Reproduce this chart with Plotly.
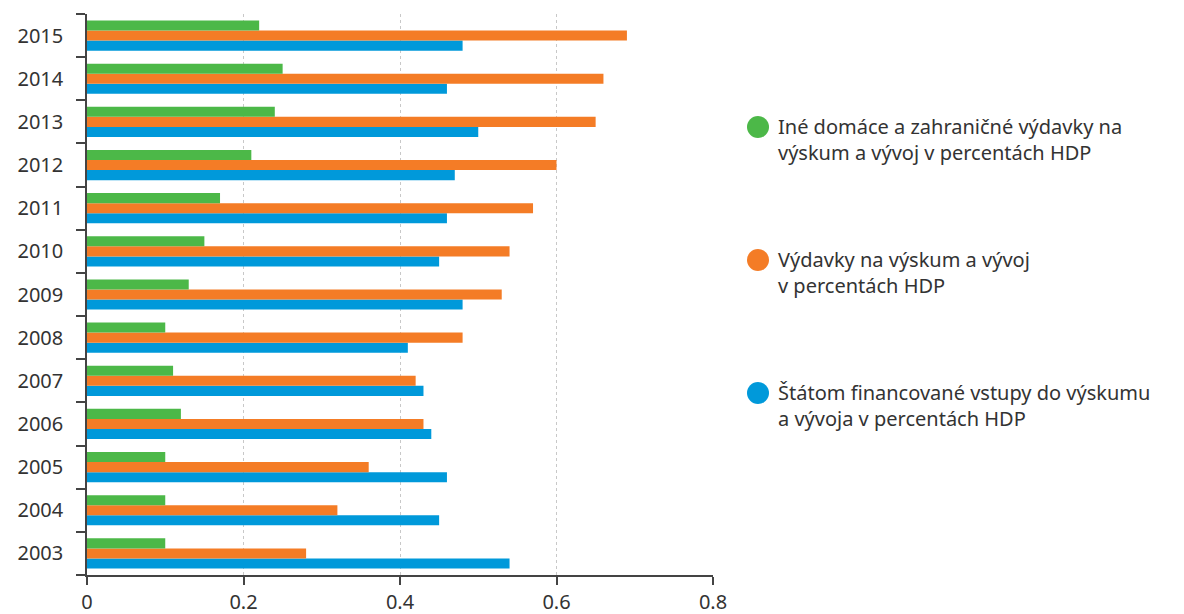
import plotly.graph_objects as go

years = ["2003", "2004", "2005", "2006", "2007", "2008", "2009", "2010", "2011", "2012", "2013", "2014", "2015"]
other_exp = [0.10, 0.10, 0.10, 0.12, 0.11, 0.10, 0.13, 0.15, 0.17, 0.21, 0.24, 0.25, 0.22]
rd_exp = [0.28, 0.32, 0.36, 0.43, 0.42, 0.48, 0.53, 0.54, 0.57, 0.60, 0.65, 0.66, 0.69]
state_fund = [0.54, 0.45, 0.46, 0.44, 0.43, 0.41, 0.48, 0.45, 0.46, 0.47, 0.50, 0.46, 0.48]

names = [
    "Iné domáce a zahraničné výdavky na<br>výskum a vývoj v percentách HDP",
    "Výdavky na výskum a vývoj<br>v percentách HDP",
    "Štátom financované vstupy do výskumu<br>a vývoja v percentách HDP",
]
colors = ["#4cb848", "#f47c26", "#0099da"]

FONT = "Noto Sans"
W, H = 1184, 614
L, R, T, B = 87, 713, 14, 575

fig = go.Figure()
# order: bottom to top within group
fig.add_trace(go.Bar(y=years, x=state_fund, orientation="h", name=names[2], marker=dict(color=colors[2], line=dict(width=0))))
fig.add_trace(go.Bar(y=years, x=rd_exp, orientation="h", name=names[1], marker=dict(color=colors[1], line=dict(width=0))))
fig.add_trace(go.Bar(y=years, x=other_exp, orientation="h", name=names[0], marker=dict(color=colors[0], line=dict(width=0))))

fig.update_layout(
    width=W, height=H,
    margin=dict(l=L, r=W - R, t=T, b=H - B, pad=0, autoexpand=False),
    barmode="group", bargap=0.3, bargroupgap=0,
    plot_bgcolor="white", paper_bgcolor="white",
    showlegend=False,
    font=dict(family=FONT, color="#333333", size=18),
)
fig.update_xaxes(
    range=[0, 0.8], tickvals=[0, 0.2, 0.4, 0.6, 0.8], ticktext=["0", "0.2", "0.4", "0.6", "0.8"],
    showgrid=True, gridcolor="#c8c8c8", griddash="dot", gridwidth=1,
    zeroline=False, showline=True, linecolor="#444444", linewidth=1.5,
    ticks="outside", ticklen=8, tickcolor="#444444", tickwidth=1.5,
    tickfont=dict(size=20, color="#333333"), automargin=False,
)
fig.update_yaxes(
    type="category", range=[-0.5, 12.5],
    showgrid=False, zeroline=False, showline=True, linecolor="#444444", linewidth=1.5,
    ticks="outside", tickson="boundaries", ticklen=9, tickcolor="#444444", tickwidth=1.5,
    ticklabelstandoff=18, automargin=False,
    tickfont=dict(size=20, color="#333333"),
)

pw = R - L
ph = B - T
legend_y = [127, 260, 393]
for i, yy in enumerate(legend_y):
    yp = 1 - (yy - T) / ph
    xp = (758 - L) / pw
    fig.add_shape(type="circle", xref="paper", yref="paper", xsizemode="pixel", ysizemode="pixel",
                  xanchor=xp, yanchor=yp, x0=-11, x1=11, y0=-11, y1=11,
                  fillcolor=colors[i], line=dict(width=0))
    fig.add_annotation(x=(776 - L) / pw, y=1 - (yy - 16 - T) / ph, xref="paper", yref="paper",
                       xanchor="left", yanchor="top", align="left", showarrow=False,
                       text=names[i], font=dict(family=FONT, size=20, color="#333333"))

fig.write_html("out.html")
